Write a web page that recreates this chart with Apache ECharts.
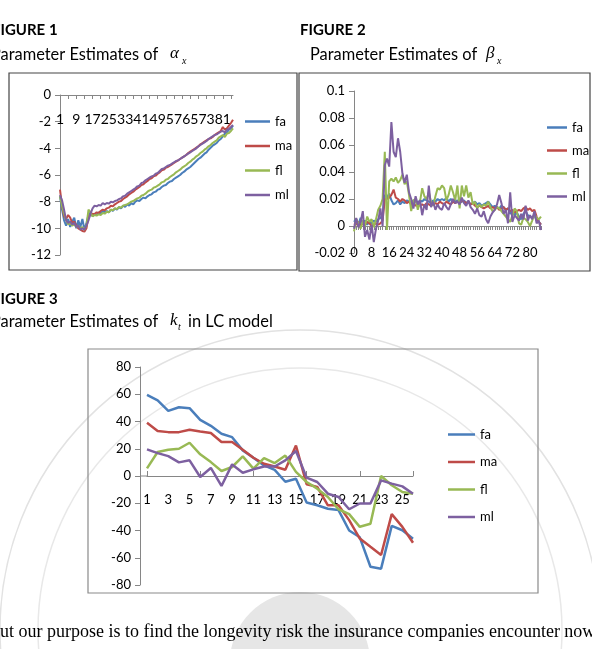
<!DOCTYPE html>
<html>
<head>
<meta charset="utf-8">
<script src="https://cdn.jsdelivr.net/npm/echarts@6/dist/echarts.min.js"></script>
<style>
  html, body { margin: 0; padding: 0; background: #fff; }
  #page { width: 592px; height: 649px; }
</style>
</head>
<body>
<div id="page"></div>
<script>
// 图1 alpha_x, 年龄 1..86
var ages1 = [];
for (var i = 1; i <= 86; i++) ages1.push(String(i));
// 图2 beta_x, 年龄 0..85
var ages2 = [];
for (var j = 0; j <= 85; j++) ages2.push(String(j));
// 图3 k_t, 年份 1..26
var years = [];
for (var t = 1; t <= 26; t++) years.push(String(t));

var seriesNames = ['fa', 'ma', 'fl', 'ml'];
var colors = ['#4a7ebb', '#be4b48', '#98b954', '#7d60a0'];

// alpha_x
var alphaFa = [-7.6,-8.6,-9.4,-9.8,-9.3,-9.9,-9.5,-9.2,-10.0,-9.4,-9.9,-9.3,-10.1,-9.6,-9.0,-8.8,-9.1,-8.9,-9.0,-8.8,
  -8.9,-8.7,-8.8,-8.7,-8.8,-8.6,-8.7,-8.5,-8.6,-8.4,-8.5,-8.3,-8.4,-8.2,-8.3,-8.1,-8.2,-8.0,-7.9,-7.95,
  -7.8,-7.7,-7.75,-7.6,-7.5,-7.45,-7.3,-7.25,-7.1,-7.05,-6.9,-6.8,-6.75,-6.6,-6.5,-6.45,-6.3,-6.2,-6.1,-6.0,
  -5.85,-5.75,-5.6,-5.5,-5.4,-5.25,-5.1,-4.95,-4.8,-4.7,-4.55,-4.4,-4.3,-4.1,-3.95,-3.8,-3.7,-3.6,-3.4,-3.3,
  -3.1,-2.9,-2.8,-2.6,-2.5,-2.3];
var alphaMa = [-7.1,-8.3,-9.1,-9.3,-9.0,-9.2,-9.6,-9.5,-9.8,-10.0,-10.1,-10.2,-10.25,-10.0,-9.1,-9.0,-8.9,-8.95,-8.8,-8.85,
  -8.7,-8.6,-8.65,-8.5,-8.45,-8.3,-8.35,-8.2,-8.1,-8.0,-7.95,-7.8,-7.7,-7.6,-7.45,-7.35,-7.25,-7.1,-7.0,-6.9,
  -6.75,-6.7,-6.55,-6.45,-6.3,-6.25,-6.1,-6.05,-5.9,-5.8,-5.65,-5.6,-5.45,-5.4,-5.3,-5.2,-5.1,-5.0,-4.9,-4.8,
  -4.7,-4.6,-4.5,-4.35,-4.25,-4.15,-4.05,-3.95,-3.85,-3.7,-3.6,-3.5,-3.4,-3.3,-3.25,-3.15,-3.0,-2.9,-2.8,-2.7,
  -2.4,-2.6,-2.5,-2.3,-2.1,-1.85];
var alphaFl = [-7.6,-8.3,-8.9,-9.4,-9.7,-9.6,-9.8,-9.7,-9.9,-9.8,-10.0,-9.9,-10.1,-9.8,-8.6,-8.8,-9.1,-9.0,-9.05,-8.95,
  -9.0,-8.85,-8.9,-8.75,-8.8,-8.6,-8.65,-8.5,-8.55,-8.4,-8.45,-8.3,-8.25,-8.2,-8.1,-8.0,-7.95,-7.85,-7.75,-7.7,
  -7.55,-7.5,-7.4,-7.25,-7.15,-7.1,-6.95,-6.9,-6.8,-6.7,-6.55,-6.5,-6.35,-6.3,-6.15,-6.05,-5.95,-5.8,-5.7,-5.6,
  -5.45,-5.35,-5.25,-5.1,-5.0,-4.85,-4.75,-4.6,-4.5,-4.35,-4.25,-4.1,-4.0,-3.85,-3.75,-3.6,-3.5,-3.4,-3.2,-3.1,
  -3.0,-3.15,-2.9,-2.85,-2.7,-2.5];
var alphaMl = [-7.5,-7.9,-8.6,-9.4,-9.6,-9.5,-9.7,-9.6,-9.9,-9.8,-10.1,-10.0,-10.1,-9.8,-9.4,-8.9,-8.5,-8.3,-8.35,-8.25,
  -8.3,-8.1,-8.2,-8.1,-8.15,-8.0,-8.05,-7.95,-7.9,-7.8,-7.75,-7.6,-7.55,-7.4,-7.3,-7.2,-7.1,-7.0,-6.85,-6.8,
  -6.6,-6.55,-6.4,-6.3,-6.2,-6.1,-6.05,-5.9,-5.85,-5.7,-5.55,-5.5,-5.4,-5.3,-5.25,-5.15,-5.05,-4.95,-4.9,-4.8,
  -4.7,-4.6,-4.5,-4.4,-4.3,-4.2,-4.1,-4.0,-3.85,-3.75,-3.65,-3.55,-3.45,-3.3,-3.2,-3.1,-3.0,-2.95,-2.85,-2.75,
  -2.7,-2.8,-2.6,-2.55,-2.4,-2.25];

// beta_x
var betaFa = [0.003,0.005,0.001,0.006,0.002,0.004,0.001,0.003,0.002,0.004,0.003,0.005,0.006,0.008,0.023,0.021,0.024,0.019,0.016,0.017,
  0.019,0.016,0.018,0.017,0.019,0.018,0.017,0.019,0.018,0.017,0.019,0.018,0.02,0.019,0.018,0.017,0.019,0.018,0.02,0.019,
  0.02,0.019,0.021,0.018,0.02,0.019,0.018,0.019,0.017,0.018,0.019,0.017,0.018,0.016,0.017,0.018,0.016,0.017,0.015,0.016,
  0.017,0.018,0.016,0.014,0.015,0.014,0.013,0.015,0.014,0.012,0.013,0.009,0.011,0.008,0.01,0.007,0.005,0.009,0.011,0.008,
  0.007,0.006,0.008,0.004,0.003,0.001];
var betaMa = [0.002,0.001,0.003,0.0,0.002,0.001,0.003,0.002,0.0,0.001,0.002,0.001,0.002,0.004,0.02,0.02,0.021,0.023,0.027,0.021,
  0.02,0.018,0.02,0.019,0.017,0.018,0.016,0.017,0.015,0.016,0.015,0.016,0.015,0.017,0.016,0.015,0.016,0.017,0.016,0.018,
  0.017,0.016,0.018,0.017,0.016,0.018,0.017,0.018,0.017,0.019,0.018,0.017,0.018,0.016,0.017,0.015,0.014,0.015,0.014,0.013,
  0.014,0.015,0.013,0.014,0.013,0.014,0.012,0.013,0.014,0.012,0.013,0.011,0.012,0.01,0.011,0.012,0.011,0.013,0.014,0.012,
  0.013,0.011,0.012,0.007,0.003,0.001];
var betaFl = [-0.004,0.005,0.002,-0.002,0.004,0.0,0.007,0.003,0.005,-0.001,0.005,0.012,0.015,0.02,0.055,-0.003,0.033,0.035,0.033,0.036,
  0.032,0.034,0.038,0.031,0.033,0.023,0.011,0.019,0.02,0.012,0.018,0.028,0.022,0.02,0.025,0.018,0.015,0.022,0.028,0.027,
  0.03,0.028,0.019,0.023,0.03,0.025,0.019,0.03,0.013,0.03,0.022,0.03,0.021,0.025,0.016,0.018,0.013,0.016,0.014,0.016,
  0.015,0.018,0.014,0.011,0.012,0.014,0.013,0.011,0.009,0.007,0.005,0.003,0.008,0.013,0.011,0.002,0.001,0.006,0.005,0.003,
  0.0,0.004,0.009,0.006,0.005,0.007];
var betaMl = [-0.002,0.006,-0.001,0.003,0.011,-0.008,-0.003,-0.01,0.001,-0.012,-0.002,0.004,0.013,0.0,0.045,0.05,0.044,0.077,0.055,0.051,
  0.065,0.055,0.039,0.032,0.038,0.025,0.02,0.013,0.022,0.016,0.019,0.008,0.016,0.012,0.03,0.014,0.018,0.012,0.016,0.013,
  0.012,0.017,0.014,0.012,0.016,0.02,0.017,0.018,0.016,0.021,0.017,0.015,0.019,0.014,0.012,0.009,0.013,0.008,0.007,0.011,
  0.005,0.002,0.007,0.01,0.012,0.016,0.023,0.017,0.009,0.012,0.002,0.025,0.003,0.008,0.006,0.004,0.009,0.005,0.015,0.004,
  0.008,0.005,0.011,0.002,0.004,-0.003];

// k_t
var kFa = [59.5,55.5,47.8,50.5,49.8,41.2,36.8,31,28.5,18.8,13.4,7.8,4.5,-4.2,-2,-19.5,-21.5,-24,-25,-40,-45,-66.6,-68,-36.6,-39.8,-46];
var kMa = [39,33,32.2,32.2,34,32.7,31.5,25,25,19.3,13.4,9,7,4.6,22.4,-6,-8,-21.5,-21.5,-32.4,-45.9,-52,-58,-28,-37.3,-49];
var kFl = [5.6,17.6,19.3,20,24.4,15.9,10.2,3.7,6.6,14.4,5.4,13.2,9.5,15,3,-4.4,-9.3,-15.4,-24.4,-28,-37.3,-35,0,-6.8,-11.7,-13];
var kMl = [19.5,16.8,14.6,10,11.5,-0.7,5.9,-7.3,8.5,2.4,4.9,7,7,11.5,18.3,-1.2,-4.4,-13,-15.4,-24.4,-20.2,-20.2,-3.2,-5.6,-7.6,-13];

var font = 'Lato, "Noto Sans", sans-serif';
var axisGray = '#868686';

var chart = echarts.init(document.getElementById('page'));

function catAxis(gridIndex, data, opt) {
  return {
    type: 'category',
    gridIndex: gridIndex,
    data: data,
    position: opt.position || 'bottom',
    offset: opt.offset || 0,
    boundaryGap: false,
    axisLine: { onZero: false, lineStyle: { color: axisGray, width: 1 } },
    axisTick: { show: true, interval: opt.tickInterval, length: opt.tickLength || 4, inside: !!opt.tickInside, lineStyle: { color: axisGray } },
    axisLabel: { interval: opt.labelInterval, inside: !!opt.labelInside, margin: opt.margin, color: '#000', fontSize: opt.fontSize, fontFamily: font },
    splitLine: { show: false }
  };
}

function valAxis(gridIndex, min, max, step, fontSize, offset) {
  return {
    type: 'value',
    gridIndex: gridIndex,
    min: min, max: max, interval: step,
    offset: offset || 0,
    axisLine: { show: true, lineStyle: { color: axisGray, width: 1 } },
    axisTick: { show: true, length: 5, lineStyle: { color: axisGray } },
    axisLabel: { color: '#000', fontSize: fontSize, fontFamily: font, margin: 9 },
    splitLine: { show: false }
  };
}

function lines(xi, arrs, width) {
  return arrs.map(function (d, k) {
    return {
      name: seriesNames[k],
      type: 'line',
      xAxisIndex: xi,
      yAxisIndex: xi,
      data: d,
      symbol: 'none',
      lineStyle: { width: width, color: colors[k] },
      itemStyle: { color: colors[k] }
    };
  });
}

function legendAt(left, top, gap, w, fontSize) {
  return {
    data: seriesNames,
    orient: 'vertical',
    left: left,
    top: top,
    itemGap: gap,
    itemWidth: w,
    itemHeight: 2.5,
    icon: 'rect',
    textStyle: { color: '#000', fontSize: fontSize, fontFamily: font }
  };
}

function txt(x, y, s, fnt) {
  return { type: 'text', silent: true, style: { text: s, x: x, y: y, fill: '#000', font: fnt, textVerticalAlign: 'middle' } };
}

function box(x, y, w, h, c) {
  return { type: 'rect', silent: true, shape: { x: x, y: y, width: w, height: h }, style: { fill: 'transparent', stroke: c, lineWidth: 1.2 } };
}

var titleFont = '16.4px ' + font;
var headFont = 'bold 15px ' + font;
var mathFont = 'italic 17px "Liberation Serif", serif';
var subFont = 'italic 10px "Liberation Serif", serif';

var option = {
  backgroundColor: '#fff',
  animation: false,
  grid: [
    { left: 60, top: 95, width: 173, height: 160 },
    { left: 354, top: 91, width: 187, height: 162 },
    { left: 147, top: 367, width: 266, height: 218 }
  ],
  xAxis: [
    catAxis(0, ages1, { position: 'top', tickInterval: 3, tickInside: true, labelInside: true, labelInterval: 7, margin: 17, fontSize: 14 }),
    catAxis(1, ages2, { offset: -27, tickInterval: 0, labelInterval: 7, margin: 20, fontSize: 13 }),
    catAxis(2, years, { offset: -109, tickInterval: 4, labelInterval: 1, margin: 17, fontSize: 13, tickInside: true, tickLength: 5 })
  ],
  yAxis: [
    valAxis(0, -12, 0, 2, 13),
    valAxis(1, -0.02, 0.1, 0.02, 13),
    valAxis(2, -80, 80, 20, 13, 7)
  ],
  legend: [
    legendAt(240, 110, 11.5, 25, 13),
    legendAt(542, 116, 10, 20, 13),
    legendAt(443, 423, 14.5, 27, 13)
  ],
  series: [].concat(
    lines(0, [alphaFa, alphaMa, alphaFl, alphaMl], 2),
    lines(1, [betaFa, betaMa, betaFl, betaMl], 2),
    lines(2, [kFa, kMa, kFl, kMl], 2.5)
  ),
  graphic: [
    // 水印
    { type: 'circle', silent: true, z: -10, shape: { cx: 300, cy: 630, r: 300 }, style: { fill: 'transparent', stroke: '#e2e2e2', lineWidth: 1.5 } },
    { type: 'circle', silent: true, z: -10, shape: { cx: 300, cy: 630, r: 262 }, style: { fill: 'transparent', stroke: '#e8e8e8', lineWidth: 1.5 } },
    { type: 'circle', silent: true, z: -10, shape: { cx: 300, cy: 662, r: 70 }, style: { fill: '#e6e6e6' } },
    // 图3 x轴左端补齐到y轴
    { type: 'line', silent: true, shape: { x1: 140, y1: 476, x2: 147, y2: 476 }, style: { stroke: axisGray, lineWidth: 1 } },
    // 边框
    box(9, 73, 288, 197, '#444'),
    box(299, 73, 291, 198, '#444'),
    box(88, 349, 450, 244, '#8a8a8a'),
    // 标题
    txt(-8, 30, 'FIGURE 1', headFont),
    txt(-9, 55, 'Parameter Estimates of', titleFont),
    txt(170, 54, 'α', mathFont),
    txt(182, 61, 'x', subFont),
    txt(300, 30, 'FIGURE 2', headFont),
    txt(310, 55, 'Parameter Estimates of', titleFont),
    txt(486, 54, 'β', mathFont),
    txt(497, 61, 'x', subFont),
    txt(-8, 299, 'FIGURE 3', headFont),
    txt(-9, 322, 'Parameter Estimates of', titleFont),
    txt(170, 321, 'k', mathFont),
    txt(178, 327, 't', subFont),
    txt(188, 322, 'in LC model', titleFont),
    txt(-12, 632, 'But our purpose is to find the longevity risk the insurance companies encounter now', '18px "Liberation Serif", serif')
  ]
};

chart.setOption(option);
</script>
</body>
</html>
